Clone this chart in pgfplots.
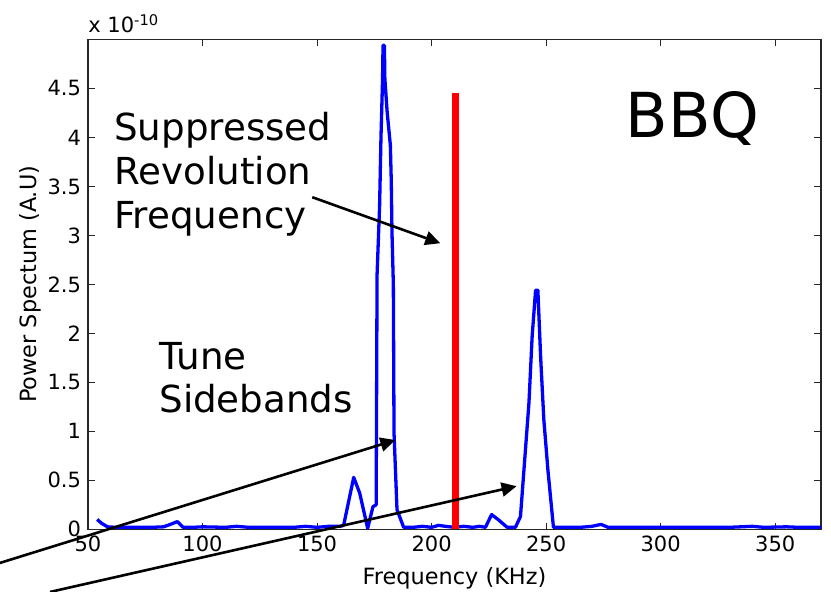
\documentclass[border=0pt]{standalone}
\usepackage{pgfplots}
\pgfplotsset{compat=1.18}
\usepackage{fontspec}
\setmainfont{DejaVu Sans}
\usetikzlibrary{arrows.meta}
\begin{document}
\begin{tikzpicture}
\begin{axis}[
  scale only axis,
  width=366.5pt, height=244.9pt,
  xmin=50, xmax=370, ymin=0, ymax=5,
  xtick={50,100,...,350},
  ytick={0,0.5,...,4.5},
  yticklabels={0,0.5,1,1.5,2,2.5,3,3.5,4,4.5},
  tick align=inside,
  major tick length=3.3pt,
  tick style={black!85, line width=0.5pt},
  axis line style={black!85, line width=0.6pt},
  /pgf/number format/assume math mode=true,
  tick label style={font=\fontsize{10.5}{12}\selectfont},
  xlabel={Frequency (KHz)},
  ylabel={Power Spectum (A.U)},
  label style={font=\fontsize{11.2}{13}\selectfont},
  xlabel style={at={(rel axis cs:0.5,-0.1137)}, anchor=base},
  ylabel style={at={(rel axis cs:-0.0696,0.5)}, anchor=base, rotate=0},
  clip=false,
]
\addplot[blue, line width=1.65pt, line join=round] coordinates {
(54,0.10) (56,0.06) (58.5,0.025) (62,0.02) (70,0.02) (78,0.02) (83,0.025) (86,0.05) (89,0.078) (91.5,0.02) (96,0.02) (100,0.025) (110,0.02) (115,0.03) (120,0.02) (130,0.02) (140,0.02) (145,0.03) (150,0.02) (155,0.03) (160,0.03) (161.6,0.04) (166,0.53) (168.6,0.37) (172.1,0.01) (174.4,0.23) (175.8,0.25) (176.2,2.6) (177.3,3.3) (177.9,4.0) (178.6,4.6) (178.8,4.94) (179.4,4.94) (179.6,4.6) (180.6,4.26) (182.0,3.92) (182.4,3.55) (182.7,3.04) (183.3,2.5) (183.6,0.98) (184.9,0.2) (187.8,0.02) (192,0.02) (196,0.03) (200,0.02) (203,0.04) (206,0.03) (210,0.02) (214,0.03) (218,0.02) (221,0.03) (223.5,0.02) (226.2,0.15) (229,0.10) (233,0.02) (236.6,0.02) (238.8,0.13) (240.3,0.6) (242.5,1.29) (243.9,1.97) (245.4,2.44) (246.4,2.44) (247.6,1.76) (249.0,1.12) (250.8,0.6) (253.2,0.02) (260,0.02) (265,0.02) (270,0.03) (274,0.05) (277,0.02) (285,0.02) (290,0.02) (300,0.02) (310,0.02) (320,0.02) (330,0.02) (340,0.03) (345,0.02) (355,0.025) (360,0.02) (365,0.02) (370,0.02)
};
\addplot[red, line width=3.6pt] coordinates {(210.4,0) (210.4,4.45)};
% annotations
\node[anchor=base west, inner sep=0pt, font=\fontsize{18.6}{22}\selectfont] at (axis cs:61.3,3.97) {Suppressed};
\node[anchor=base west, inner sep=0pt, font=\fontsize{18.6}{22}\selectfont] at (axis cs:61.3,3.52) {Revolution};
\node[anchor=base west, inner sep=0pt, font=\fontsize{18.6}{22}\selectfont] at (axis cs:61.3,3.07) {Frequency};
\node[anchor=base west, inner sep=0pt, font=\fontsize{18.6}{22}\selectfont] at (axis cs:81.0,1.636) {Tune};
\node[anchor=base west, inner sep=0pt, font=\fontsize{18.6}{22}\selectfont] at (axis cs:81.0,1.187) {Sidebands};
\node[anchor=base west, inner sep=0pt, font=\fontsize{31}{36}\selectfont] at (axis cs:284.6,4.0) {BBQ};
\node[anchor=base west, inner sep=0pt, font=\fontsize{10.5}{12}\selectfont] at (rel axis cs:0,1.0133) {x 10\textsuperscript{-10}};
\draw[black, line width=1.3pt, -{Triangle[length=7.5pt,width=7pt]}] (axis cs:147.9,3.39) -- (axis cs:203.8,2.92);
\draw[black, line width=1.3pt, -{Triangle[length=7.5pt,width=7pt]}] (axis cs:11.5,-0.344) -- (axis cs:184.2,0.911);
\draw[black, line width=1.3pt, -{Triangle[length=7.5pt,width=7pt]}] (axis cs:33.4,-0.64) -- (axis cs:237.1,0.44);
\coordinate (bbSW) at (rel axis cs:-0.12005,-0.128);
\coordinate (bbNE) at (rel axis cs:1.01364,1.0806);
\end{axis}
\pgfresetboundingbox
\path[use as bounding box] (bbSW) rectangle (bbNE);
\end{tikzpicture}
\end{document}
